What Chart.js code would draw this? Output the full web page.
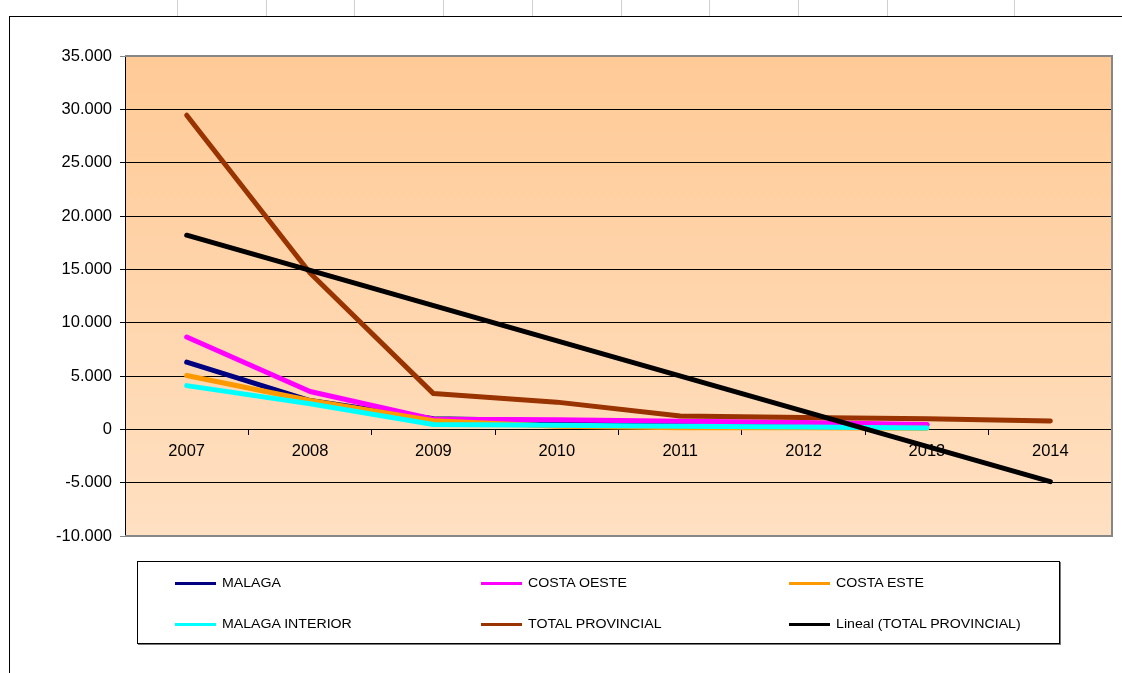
<!DOCTYPE html>
<html><head><meta charset="utf-8">
<script src="https://cdn.jsdelivr.net/npm/chart.js@4"></script>
<style>
html,body{margin:0;padding:0;background:#fff;width:1122px;height:673px;overflow:hidden;font-family:"Liberation Sans",Arial,sans-serif;}
#wrap{position:relative;width:1122px;height:673px;}
.vl{position:absolute;top:0;height:16px;width:1px;background:#d0d0d0;}
#frame{position:absolute;left:9px;top:16px;width:1130px;height:680px;border:1px solid #000;box-sizing:border-box;}
#c{position:absolute;left:0;top:0;}
#legend{position:absolute;left:137px;top:561px;width:923px;height:83px;border:1px solid #000;background:#fff;box-sizing:border-box;box-shadow:1px 1px 0 #777;}
.item{position:absolute;height:20px;}
.sw{position:absolute;left:0;top:9px;width:41px;height:3px;}
.lt{position:absolute;left:47px;top:0;font-size:12px;line-height:20px;white-space:nowrap;transform:scaleX(1.18);transform-origin:0 50%;color:#000;}
</style></head><body>
<div id="wrap">
<div id="grid"></div>
<div id="frame"></div>
<canvas id="c" width="1122" height="673"></canvas>
<div id="legend"></div>
</div>
<script>
// ---- data ----
const years = ['2007','2008','2009','2010','2011','2012','2013','2014'];
const malaga        = [6300, 2700, 1000, 800, 650, 550, 400, null];
const costaOeste    = [8650, 3550, 950, 900, 750, 630, 450, null];
const costaEste     = [5050, 2700, 800, 300, 150, 150, 100, null];
const malagaInterior= [4100, 2400, 450, 380, 280, 220, 120, null];
const totalProv     = [29450, 14650, 3350, 2550, 1250, 1100, 1000, 780];
const trendTotal    = [18200, null, null, null, null, null, null, -4900];
const seriesNames = ['MALAGA','COSTA OESTE','COSTA ESTE','MALAGA INTERIOR','TOTAL PROVINCIAL','Lineal (TOTAL PROVINCIAL)'];
const yTicksMin = -10000, yTicksMax = 35000, yStep = 5000;

// ---- styles ----
const seriesColors = ['#000080','#ff00ff','#ff9900','#00ffff','#993300','#000000'];
const seriesData = [malaga, costaOeste, costaEste, malagaInterior, totalProv, trendTotal];

// spreadsheet grid lines at top
const gridXs = [177,266,354,443,532,621,709,798,887,1014];
const g = document.getElementById('grid');
gridXs.forEach(x => { const d = document.createElement('div'); d.className='vl'; d.style.left = x+'px'; g.appendChild(d); });

function fmt(v){
  const s = Math.abs(v).toString().replace(/\B(?=(\d{3})+(?!\d))/g,'.');
  return (v<0?'-':'') + s;
}

const plotBg = {
  id:'plotBg',
  beforeDraw(chart){
    const {ctx, chartArea:a} = chart;
    const gr = ctx.createLinearGradient(0,a.top,0,a.bottom);
    gr.addColorStop(0,'#ffca96');
    gr.addColorStop(1,'#ffe0c2');
    ctx.save();
    ctx.fillStyle = gr;
    ctx.fillRect(a.left,a.top,a.right-a.left,a.bottom-a.top);
    ctx.restore();
  },
  beforeDatasetsDraw(chart){
    const {ctx, chartArea:a} = chart;
    ctx.save();
    ctx.strokeStyle = '#878787';
    ctx.lineWidth = 2;
    ctx.beginPath();
    ctx.moveTo(a.left, a.top); ctx.lineTo(a.right, a.top);
    ctx.lineTo(a.right, a.bottom); ctx.lineTo(a.left, a.bottom);
    ctx.stroke();
    ctx.restore();
  }
};

Chart.defaults.font.family = '"Liberation Sans", Arial, sans-serif';
Chart.defaults.color = '#000';

const datasets = seriesNames.map((n,i) => ({
  label: n,
  data: seriesData[i],
  borderColor: seriesColors[i],
  backgroundColor: seriesColors[i],
  borderWidth: 5,
  pointRadius: 0,
  pointHoverRadius: 0,
  borderCapStyle: 'round',
  borderJoinStyle: 'round',
  tension: 0,
  fill: false,
  spanGaps: i === 5,
  order: 5 - i
}));

new Chart(document.getElementById('c'), {
  type: 'line',
  data: { labels: years, datasets },
  options: {
    responsive: false,
    animation: false,
    devicePixelRatio: 1,
    layout: { padding: { left: 0, right: 10, top: 56, bottom: 137 } },
    plugins: { legend: { display: false }, tooltip: { enabled: false } },
    events: [],
    scales: {
      x: {
        type: 'category',
        offset: true,
        position: { y: 0 },
        afterFit(s){ s.height = 0; },
        grid: { drawOnChartArea: false, offset: true, tickLength: 5, color: '#000', lineWidth: 1 },
        border: { color: '#000', width: 1 },
        ticks: { font: { size: 16.5 }, color: '#000', padding: 7, maxRotation: 0, autoSkip: false }
      },
      y: {
        min: yTicksMin, max: yTicksMax,
        afterFit(s){ s.width = 125; },
        grid: {
          color: c => (c.tick && (c.tick.value === yTicksMax || c.tick.value === yTicksMin)) ? '#878787' : '#000',
          tickLength: 5, lineWidth: 1
        },
        border: { color: '#000', width: 1 },
        ticks: { stepSize: yStep, font: { size: 16.5 }, color: '#000', padding: 8, callback: v => fmt(v) }
      }
    }
  },
  plugins: [plotBg]
});

// legend (HTML, built from series names/colors)
const legendCols = [37, 343, 651];
const legendRows = [11, 52];
const L = document.getElementById('legend');
seriesNames.forEach((n,i) => {
  const it = document.createElement('div');
  it.className = 'item';
  it.style.left = legendCols[i%3] + 'px';
  it.style.top = legendRows[Math.floor(i/3)] + 'px';
  const sw = document.createElement('div'); sw.className='sw'; sw.style.background = seriesColors[i];
  const t = document.createElement('span'); t.className='lt'; t.textContent = n;
  it.appendChild(sw); it.appendChild(t); L.appendChild(it);
});
</script>
</body></html>
